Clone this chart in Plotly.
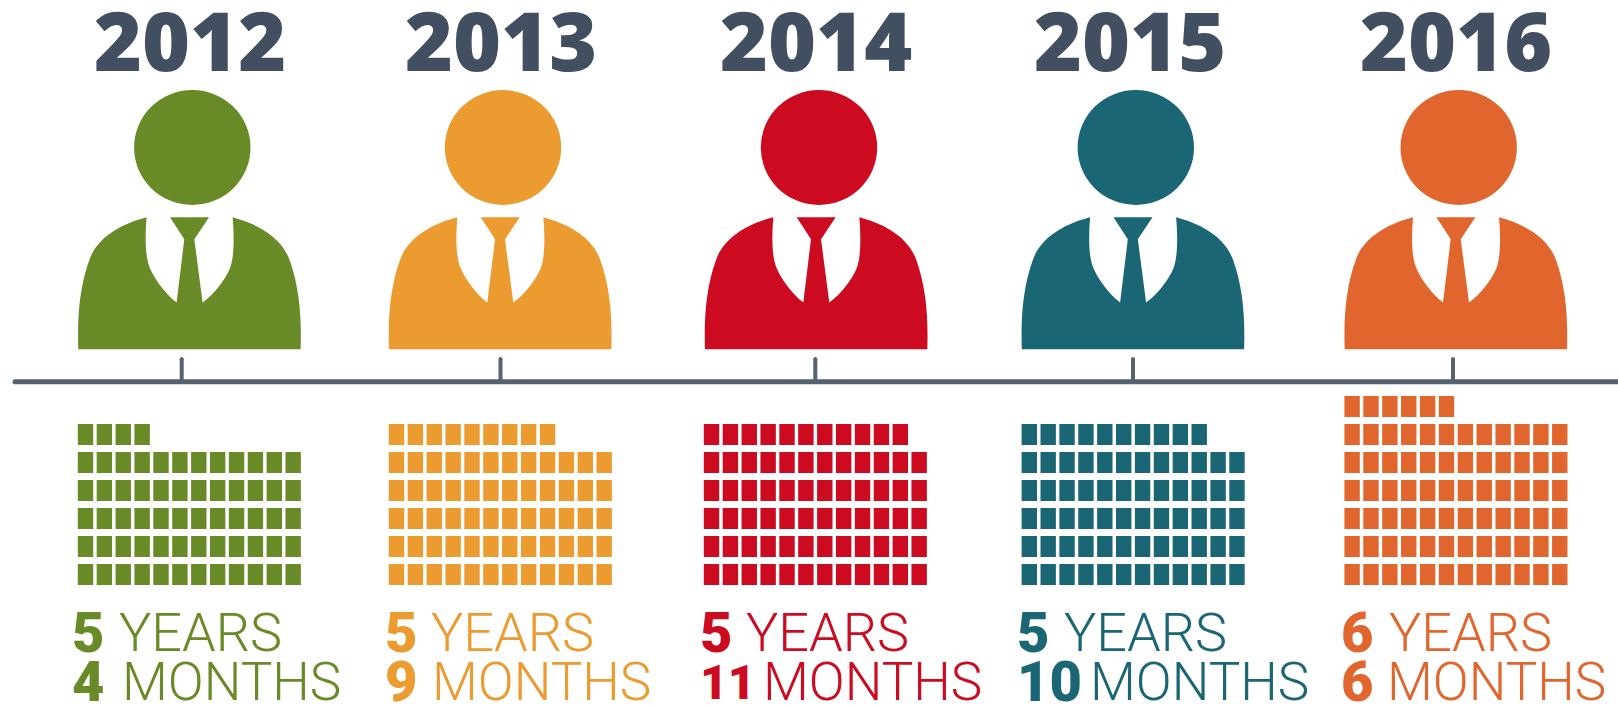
import plotly.graph_objects as go

# ---------- data ----------
years = ["2012", "2013", "2014", "2015", "2016"]
tenure_years = [5, 5, 5, 5, 6]
tenure_months = [4, 9, 11, 10, 6]
colors = ["#688A27", "#EC9B31", "#CC0A20", "#1A6674", "#E0662E"]

# ---------- layout ----------
W, H = 1618, 707
AXIS_COLOR = "#566270"
YEAR_COLOR = "#414F60"
left_x = [78.3, 389, 705, 1021.8, 1344.7]
waffle_x = [77.8, 388.8, 703.8, 1021.6, 1344.4]
tick_x = [181.7, 500.5, 815.3, 1133, 1453]
year_x = [190, 500.5, 816, 1130, 1456]
num_x = [70, 383, 698, 1015, 1339]
years_word_x = [117, 428.5, 743.5, 1061.5, 1386.5]
months_word_x = [120, 430, 761, 1088, 1385]
AXIS_Y = 381.7
CELL_W, CELL_H, PITCH_X, PITCH_Y = 15.4, 21, 18.88, 28
BOTTOM_ROW_TOP = 564


def icon_path(x0):
    def p(cx, cy):
        return f"{x0 + (cx - 85) / 3:.1f},{349.3 + (cy - 838) / 3:.1f}"
    return (
        f"M{p(85,838)} C{p(82,740)} {p(88,655)} {p(118,570)} "
        f"C{p(143.5,498)} {p(220,460)} {p(290,442)} "
        f"C{p(285,500)} {p(285,560)} {p(300,595)} "
        f"C{p(315,630)} {p(345,670)} {p(380,698)} "
        f"L{p(403,508)} L{p(360,442)} L{p(477,442)} L{p(433,508)} L{p(458,698)} "
        f"C{p(495,670)} {p(525,630)} {p(540,595)} "
        f"C{p(553,560)} {p(553,500)} {p(548,442)} "
        f"C{p(617,460)} {p(693.5,498)} {p(719,570)} "
        f"C{p(749,655)} {p(755,740)} {p(752,838)} Z"
    )


fig = go.Figure()
shapes, annotations = [], []

# timeline
fig.add_trace(go.Scatter(x=[15, W], y=[AXIS_Y, AXIS_Y], mode="lines",
                         line=dict(color=AXIS_COLOR, width=5), hoverinfo="skip"))
fig.add_trace(go.Scatter(x=[15], y=[AXIS_Y], mode="markers",
                         marker=dict(color=AXIS_COLOR, size=5, line=dict(width=0)), hoverinfo="skip"))
for tx in tick_x:
    fig.add_trace(go.Scatter(x=[tx, tx], y=[359, AXIS_Y], mode="lines",
                             line=dict(color=AXIS_COLOR, width=4), hoverinfo="skip"))
fig.add_trace(go.Scatter(x=tick_x, y=[359] * len(tick_x), mode="markers",
                         marker=dict(color=AXIS_COLOR, size=4, line=dict(width=0)), hoverinfo="skip"))


def label(x, y, text, size, color, weight):
    annotations.append(dict(x=x, y=y, xref="x", yref="y", showarrow=False,
                            xanchor="left", yanchor="middle", text=text,
                            font=dict(family="Roboto", size=size, color=color, weight=weight)))


for i, yr in enumerate(years):
    col = colors[i]
    x0 = left_x[i]
    # waffle: one cell per month, 12 per row, filled from the bottom row up
    total = tenure_years[i] * 12 + tenure_months[i]
    cx = [waffle_x[i] + (k % 12) * PITCH_X + CELL_W / 2 for k in range(total)]
    tops = [BOTTOM_ROW_TOP - (k // 12) * PITCH_Y for k in range(total)]
    fig.add_trace(go.Bar(x=cx, y=[CELL_H] * total, base=tops, width=[CELL_W] * total,
                         marker=dict(color=col, line=dict(width=0)), hoverinfo="skip"))
    # person icon
    shapes.append(dict(type="path", path=icon_path(x0), xref="x", yref="y",
                       fillcolor=col, line=dict(width=0), layer="above"))
    hx = x0 + 114
    shapes.append(dict(type="circle", xref="x", yref="y", x0=hx - 58.2, x1=hx + 58.2,
                       y0=90, y1=205, fillcolor=col, line=dict(width=0), layer="above"))
    # year heading
    annotations.append(dict(x=year_x[i], y=39, xref="x", yref="y", text=yr, showarrow=False,
                            xanchor="center", yanchor="middle",
                            font=dict(family="Open Sans", size=82, color=YEAR_COLOR, weight=800)))
    # tenure
    m = str(tenure_months[i])
    label(num_x[i], 632.5, str(tenure_years[i]), 56, col, 900)
    label(years_word_x[i], 632.5, "YEARS", 54, col, 300)
    label(num_x[i], 682, m, 48 if m == "11" else 56, col, 900)
    label(months_word_x[i], 682, "MONTHS", 53, col, 300)

fig.update_layout(
    width=W, height=H, margin=dict(l=0, r=0, t=0, b=0),
    paper_bgcolor="white", plot_bgcolor="white", showlegend=False,
    barmode="overlay", shapes=shapes, annotations=annotations,
    xaxis=dict(range=[0, W], visible=False, fixedrange=True),
    yaxis=dict(range=[H, 0], visible=False, fixedrange=True),
)
fig.write_html("out.html", config={"displayModeBar": False},
               post_script="document.body.style.margin='0';document.body.style.overflow='hidden';")
